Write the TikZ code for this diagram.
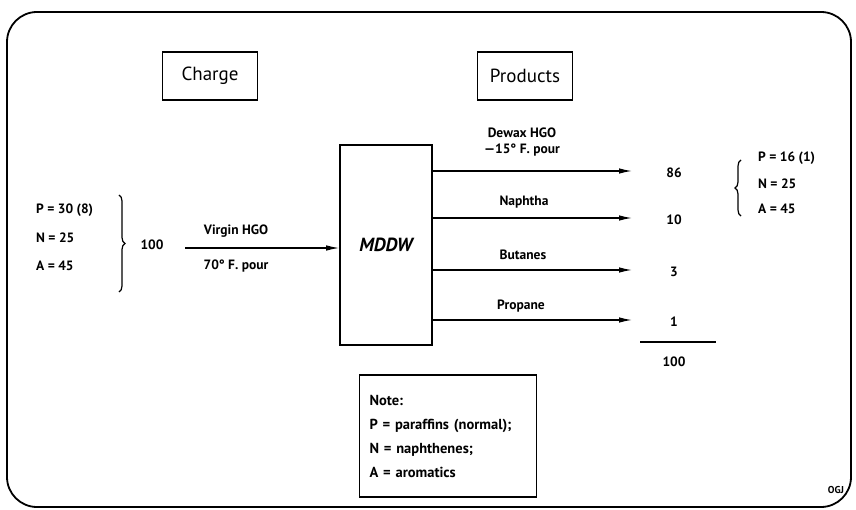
\documentclass[tikz,border=0pt]{standalone}
\usepackage{fontspec}
\setmainfont{PT Sans}
\usetikzlibrary{arrows.meta, decorations.pathreplacing, positioning}
\tikzstyle{frame}=[draw=black, line width=1.8pt, rounded corners=30pt]
\tikzstyle{heading}=[draw=black, line width=1.3pt, minimum width=95pt, minimum height=48pt, font=\fontsize{19}{20}\selectfont]
\tikzstyle{unit}=[draw=black, line width=1.6pt, minimum width=92pt, minimum height=200pt, font=\bfseries\itshape\fontsize{19}{22}\selectfont]
\tikzstyle{lbl}=[font=\bfseries\fontsize{13.5}{16}\selectfont, inner sep=1pt]
\tikzstyle{flow}=[line width=1.2pt, -{Latex[length=13pt, width=5.5pt]}]
\tikzstyle{curly}=[decorate, decoration={brace, amplitude=6pt}, line width=1.2pt]

\begin{document}
\begin{tikzpicture}[x=1pt, y=-1pt]
			\useasboundingbox (0,0) rectangle (856,510);
			\draw[frame] (7,12) rectangle (851,507);
			% headings
			\node[heading] (charge) at (210,76) {Charge};
			\node[heading] (products) at (525,76) {Products};
			% dewaxing unit
			\node[unit] (mddw) at (386,245) {MDDW};
			% charge side
			\node[lbl, anchor=west] (cp) at (35,210) {P = 30 (8)};
			\node[lbl, anchor=west] (cn) at (35,238) {N = 25};
			\node[lbl, anchor=west] (ca) at (35,266) {A = 45};
			\draw[curly] (119,195) -- (119,292);
			\node[lbl] (ctotal) at (152,245) {100};
			\coordinate (feed) at (185,248);
			\draw[flow] (feed) -- (mddw.west |- feed);
			\node[lbl] (virgin) at (236,231) {Virgin HGO};
			\node[lbl] (vpour) at (236,266) {70° F. pour};
			% products side
			\foreach \y/\v [count=\i] in {171/86, 218/10, 270/3, 320/1}{
				\coordinate (out\i) at (632,\y);
				\draw[flow] (mddw.east |- out\i) -- (out\i);
				\node[lbl] (val\i) at (674,\y+2) {\v};
			}
			\node[lbl, align=center] (dewax) at (522,142) {Dewax HGO\\—15° F. pour};
			\node[lbl] (naphtha) at (524,202) {Naphtha};
			\node[lbl] (butanes) at (523,255) {Butanes};
			\node[lbl] (propane) at (521,306) {Propane};
			\coordinate (sumL) at (640,342);
			\coordinate (sumR) at (716,342);
			\draw[line width=1.1pt] (sumL) -- (sumR);
			\node[lbl] (ptotal) at (674,362) {100};
			\draw[curly] (741,216) -- (741,160);
			\node[lbl, anchor=west] (pp) at (757,158) {P = 16 (1)};
			\node[lbl, anchor=west] (pn) at (757,184) {N = 25};
			\node[lbl, anchor=west] (pa) at (757,209) {A = 45};
			% note
			\node[draw=black, line width=1.7pt, minimum width=177pt, minimum height=122pt, text width=157pt, align=left, font=\bfseries\fontsize{14.5}{24}\selectfont] (note) at (448,436) {Note:\\P = paraffins (normal);\\N = naphthenes;\\A = aromatics};
			\node[font=\bfseries\fontsize{10}{11}\selectfont] (ogj) at (836,490) {OGJ};
		\end{tikzpicture}
\end{document}
